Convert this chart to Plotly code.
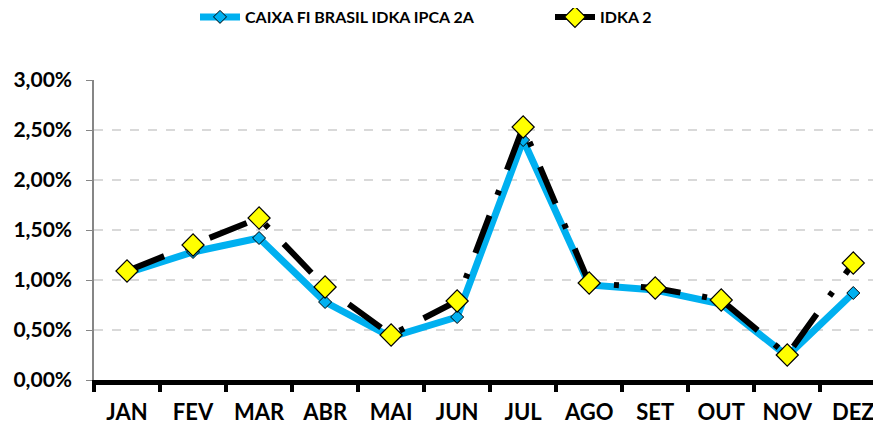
import plotly.graph_objects as go

months = ["JAN", "FEV", "MAR", "ABR", "MAI", "JUN", "JUL", "AGO", "SET", "OUT", "NOV", "DEZ"]
caixa = [1.07, 1.28, 1.42, 0.78, 0.43, 0.63, 2.40, 0.95, 0.90, 0.76, 0.24, 0.87]
idka = [1.09, 1.35, 1.62, 0.93, 0.45, 0.79, 2.53, 0.97, 0.92, 0.80, 0.25, 1.17]
caixa_pct = [v / 100 for v in caixa]
idka_pct = [v / 100 for v in idka]
yticks = [0, 0.005, 0.01, 0.015, 0.02, 0.025, 0.03]

FONT = "Lato"

fig = go.Figure()
fig.add_trace(go.Scatter(
    x=months, y=caixa_pct, name="CAIXA FI BRASIL IDKA IPCA 2A",
    mode="lines+markers",
    line=dict(color="#00B0F0", width=7),
    marker=dict(symbol="diamond", size=10, color="#00B0F0", line=dict(color="black", width=1)),
))
fig.add_trace(go.Scatter(
    x=months, y=idka_pct, name="IDKA 2",
    mode="lines+markers",
    line=dict(color="black", width=6, dash="40px,22px,5px,22px"),
    marker=dict(symbol="diamond", size=17, color="#FFFF00", line=dict(color="black", width=1.2)),
))

# page body has an 8px margin, so the figure is sized to the remaining area
fig.update_layout(
    width=873, height=416,
    margin=dict(l=86, r=0, t=72, b=44, autoexpand=False),
    plot_bgcolor="white", paper_bgcolor="white",
    separators=",.",
    font=dict(family=FONT, color="black"),
    showlegend=True,
    legend=dict(
        orientation="h", x=187 / 873, y=1 - 9 / 416, xref="container", yref="container",
        xanchor="left", yanchor="middle",
        font=dict(family=FONT, size=16, color="black", weight="bold"),
        entrywidth=300, itemwidth=40,
    ),
    xaxis=dict(
        range=[-0.5, 11.42], automargin=False,
        showline=True, linecolor="black", linewidth=5,
        ticks="outside", tickson="boundaries", ticklen=7, tickwidth=4, tickcolor="black",
        tickfont=dict(family=FONT, size=22, color="black", weight="bold"),
        ticklabelstandoff=9,
        showgrid=False, zeroline=False,
    ),
    yaxis=dict(
        range=[0, 0.03], tickvals=yticks, tickformat=".2%", automargin=False,
        showline=True, linecolor="#868686", linewidth=1.5,
        ticks="outside", ticklen=6, tickcolor="#868686", tickwidth=1,
        tickfont=dict(family=FONT, size=21, color="black", weight="bold"),
        ticklabelstandoff=10,
        showgrid=True, gridcolor="#D9D9D9", griddash="dash", gridwidth=1.5,
        zeroline=False,
    ),
)

fig.write_html("out.html")
